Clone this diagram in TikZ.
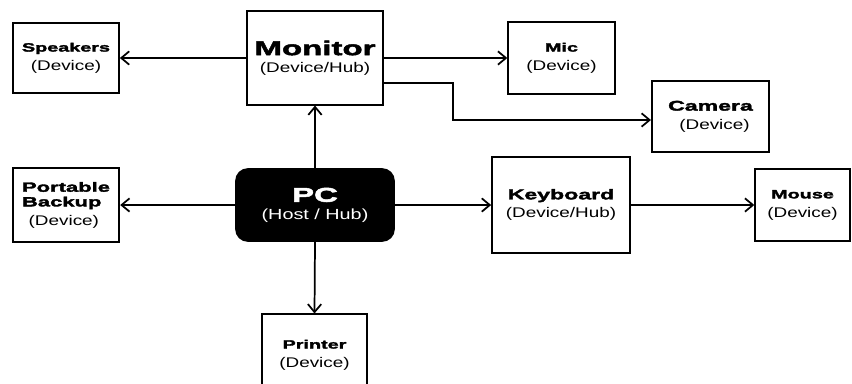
\documentclass[tikz,border=0pt]{standalone}
\usepackage{fontspec}
\setmainfont{Liberation Sans}
\newfontfamily\ttlfont{Liberation Sans Bold}[FakeStretch=1.65, FakeBold=2.5]
\newfontfamily\subfont{Liberation Sans}[FakeStretch=1.35]
\usetikzlibrary{arrows.meta, positioning}
\tikzset{%
  box/.style={draw, line width=1.3pt, rectangle, align=center, inner sep=0pt,
              font=\subfont\fontsize{10.5}{14}\selectfont},
  hub/.style={box, fill=black, text=white, rounded corners=9pt},
  link/.style={-{Straight Barb[length=6pt, width=10pt]}, line width=1.3pt},
}
\newcommand{\devname}[2][9]{{\ttlfont\fontsize{#1}{14}\selectfont #2}}

\begin{document}
\begin{tikzpicture}[x = 0.75pt, y = -0.75pt]

\useasboundingbox (0,0) rectangle (852,383);
\clip (0,0) rectangle (852,383);

% Top row: monitor hub and its devices
\node[box, minimum width=102pt, minimum height=70pt] (monitor) at (315,58)
  {\devname[15]{Monitor}\\[-1pt](Device/Hub)};
\node[box, minimum width=79.5pt, minimum height=53pt] (speakers) at (66,58)
  {\devname{Speakers}\\(Device)};
\node[box, minimum width=80pt, minimum height=54pt] (mic) at (561.5,58)
  {\devname{Mic}\\(Device)};
\node[box, minimum width=88pt, minimum height=53pt] (camera) at (710.5,116.5)
  {\devname[10.5]{Camera}\\\hspace*{6pt}(Device)};

% Middle row: the host
\node[hub, minimum width=118.5pt, minimum height=54pt] (pc) at (315,205)
  {\devname[15]{PC}\\[-1pt]\fontsize{11}{14}\selectfont(Host / Hub)};
\node[box, minimum width=80pt, minimum height=55pt, align=left] (backup) at (66,205)
  {\devname[10]{Portable}\\[-3pt]\devname[10]{Backup}\\\hspace*{5pt}(Device)};
\node[box, minimum width=103.5pt, minimum height=72pt] (keyboard) at (561,205)
  {\devname[10.5]{Keyboard}\\(Device/Hub)};
\node[box, minimum width=71pt, minimum height=54pt] (mouse) at (802.5,205)
  {\devname{Mouse}\\(Device)};

% Bottom: printer, runs off the page
\node[box, minimum width=79pt, minimum height=61pt] (printer) at (314.5,355)
  {\devname{Printer}\\(Device)};

% Bend for the camera line
\coordinate (bend) at (453,120);

% Connections
\draw[link] (monitor.west) -- (speakers.east);
\draw[link] (monitor.east) -- (mic.west);
\draw[link] ([yshift=-18.5pt]monitor.east) -| (bend) -- (bend -| camera.west);
\draw[link] (pc.north) -- (monitor.south);
\draw[link] (pc.west) -- (backup.east);
\draw[link] (pc.east) -- (keyboard.west);
\draw[link] (keyboard.east) -- (mouse.west);
\draw[link] (pc.south) -- (printer.north);

\end{tikzpicture}
\end{document}
